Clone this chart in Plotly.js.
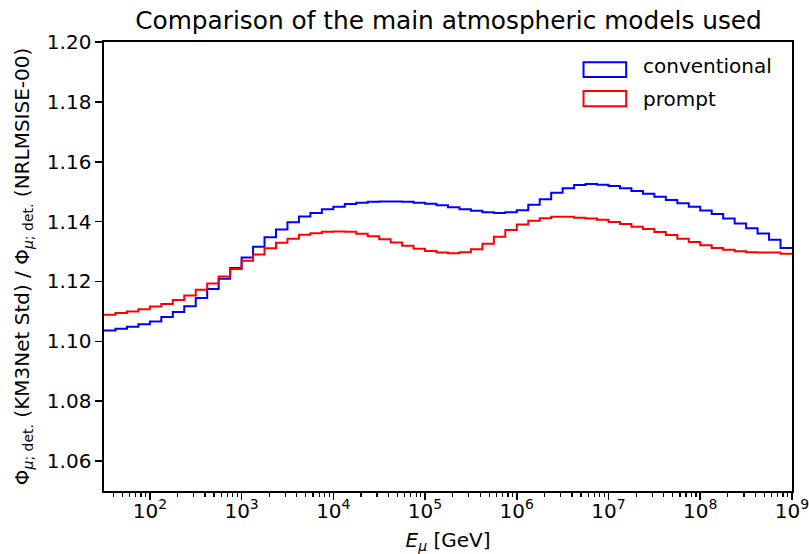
<!DOCTYPE html>
<html>
<head>
<meta charset="utf-8">
<script src="https://cdn.plot.ly/plotly-3.0.1.min.js"></script>
<style>html,body{margin:0;padding:0;background:#fff;}#chart{width:809px;height:554px;}</style>
</head>
<body>
<div id="chart"></div>
<script>
// Bin edges (log10 of E in GeV)
var binEdgesLog10 = [1.5,1.625,1.75,1.875,2,2.125,2.25,2.375,2.5,2.625,2.75,2.875,
  3,3.125,3.25,3.375,3.5,3.625,3.75,3.875,4,4.125,4.25,4.375,4.5,4.625,4.75,4.875,
  5,5.125,5.25,5.375,5.5,5.625,5.75,5.875,6,6.125,6.25,6.375,6.5,6.625,6.75,6.875,
  7,7.125,7.25,7.375,7.5,7.625,7.75,7.875,8,8.125,8.25,8.375,8.5,8.625,8.75,8.875,9];

var conventional = [1.1036,1.1042,1.1049,1.1057,1.1066,1.1081,1.1098,1.1117,1.1145,1.1175,
  1.1209,1.1245,1.1280,1.1316,1.1348,1.1374,1.1398,1.1417,1.1429,1.1441,
  1.1450,1.1459,1.1463,1.1466,1.1467,1.1467,1.1466,1.1463,1.1460,1.1455,
  1.1448,1.1441,1.1436,1.1431,1.1429,1.1431,1.1438,1.1456,1.1475,1.1496,
  1.1511,1.1522,1.1526,1.1523,1.1519,1.1511,1.1502,1.1493,1.1483,1.1472,
  1.1461,1.1450,1.1437,1.1425,1.1410,1.1394,1.1378,1.1360,1.1339,1.1312];

var prompt = [1.1089,1.1095,1.1100,1.1107,1.1116,1.1125,1.1138,1.1153,1.1172,1.1193,
  1.1217,1.1242,1.1269,1.1290,1.1311,1.1329,1.1343,1.1356,1.1361,1.1366,
  1.1367,1.1366,1.1359,1.1351,1.1341,1.1330,1.1319,1.1309,1.1302,1.1297,
  1.1294,1.1298,1.1308,1.1326,1.1349,1.1372,1.1390,1.1403,1.1411,1.1416,
  1.1416,1.1413,1.1410,1.1406,1.1399,1.1392,1.1383,1.1375,1.1365,1.1355,
  1.1343,1.1332,1.1321,1.1312,1.1306,1.1301,1.1298,1.1297,1.1297,1.1293];

var seriesNames = ['conventional', 'prompt'];
var seriesColors = ['#0000ff', '#ff0000'];
var yTickValues = [1.06,1.08,1.10,1.12,1.14,1.16,1.18,1.20];
var xTickValues = [1e2,1e3,1e4,1e5,1e6,1e7,1e8,1e9];
var xTickLabels = ['10<sup>2</sup>','10<sup>3</sup>','10<sup>4</sup>','10<sup>5</sup>',
  '10<sup>6</sup>','10<sup>7</sup>','10<sup>8</sup>','10<sup>9</sup>'];

// minor log ticks: 2..9 times each power of ten, inside the visible range
var xMinorTicks = [];
for (var p = 1; p <= 8; p++) {
  for (var m = 2; m <= 9; m++) {
    var v = m * Math.pow(10, p);
    if (v > Math.pow(10, 1.5) && v < 1e9) xMinorTicks.push(v);
  }
}

var xEdges = binEdgesLog10.map(function(e){ return Math.pow(10, e); });
function stepY(v){ return v.concat([v[v.length-1]]); }

var traces = [conventional, prompt].map(function(vals, i){
  return {
    type: 'scatter', mode: 'lines', name: seriesNames[i],
    x: xEdges, y: stepY(vals),
    line: {shape: 'hv', color: seriesColors[i], width: 2},
    showlegend: false, hoverinfo: 'skip'
  };
});

var font = {family: 'DejaVu Sans, sans-serif', color: '#000'};

// custom matplotlib-like legend (outlined patches)
var legendShapes = [], legendAnnots = [];
var legY = [[0.955, 0.922], [0.891, 0.857]];
var legText = [0.9465, 0.874];
for (var i = 0; i < seriesNames.length; i++) {
  legendShapes.push({type: 'rect', xref: 'paper', yref: 'paper',
    x0: 0.697, x1: 0.759, y0: legY[i][1], y1: legY[i][0],
    line: {color: seriesColors[i], width: 2}, fillcolor: 'rgba(0,0,0,0)'});
  legendAnnots.push({xref: 'paper', yref: 'paper', x: 0.781, y: legText[i],
    xanchor: 'left', yanchor: 'middle', showarrow: false, text: seriesNames[i],
    font: {family: font.family, size: 20, color: '#000'}});
}

var layout = {
  width: 809, height: 554,
  margin: {l: 104, r: 17, t: 42, b: 63, pad: 0},
  paper_bgcolor: '#fff', plot_bgcolor: '#fff',
  font: {family: font.family, size: 20, color: '#000'},
  title: {text: 'Comparison of the main atmospheric models used',
    font: {family: font.family, size: 24.8, color: '#000'},
    x: 0.5544, xanchor: 'center', y: 0.963, yanchor: 'middle'},
  xaxis: {
    type: 'log', range: [1.5, 9.0002], tickvals: xTickValues, ticktext: xTickLabels,
    ticklabeloverflow: 'allow',
    showgrid: false, zeroline: false,
    showline: true, mirror: true, linecolor: '#000', linewidth: 1.6,
    ticks: 'outside', ticklen: 7, tickwidth: 1.6, tickcolor: '#000',
    ticklabelstandoff: -6,
    tickfont: {family: font.family, size: 20, color: '#000'},
    minor: {tickmode: 'array', tickvals: xMinorTicks, ticks: 'outside', ticklen: 4,
      tickwidth: 1.2, tickcolor: '#000', showgrid: false},
    title: {text: '<i>E</i><sub><i>μ</i></sub> [GeV]', standoff: 18,
      font: {family: font.family, size: 20, color: '#000'}}
  },
  yaxis: {
    range: [1.05, 1.20], tickvals: yTickValues, tickformat: '.2f',
    showgrid: false, zeroline: false,
    showline: true, mirror: true, linecolor: '#000', linewidth: 1.6,
    ticks: 'outside', ticklen: 7, tickwidth: 1.6, tickcolor: '#000',
    tickfont: {family: font.family, size: 20, color: '#000'},
    title: {text: 'Φ<sub><i>μ</i>; det.</sub> (KM3Net Std) / Φ<sub><i>μ</i>; det.</sub> (NRLMSISE-00)',
      standoff: 12, font: {family: font.family, size: 20, color: '#000'}}
  },
  shapes: legendShapes,
  annotations: legendAnnots
};

Plotly.newPlot('chart', traces, layout, {displayModeBar: false, staticPlot: true});
</script>
</body>
</html>
